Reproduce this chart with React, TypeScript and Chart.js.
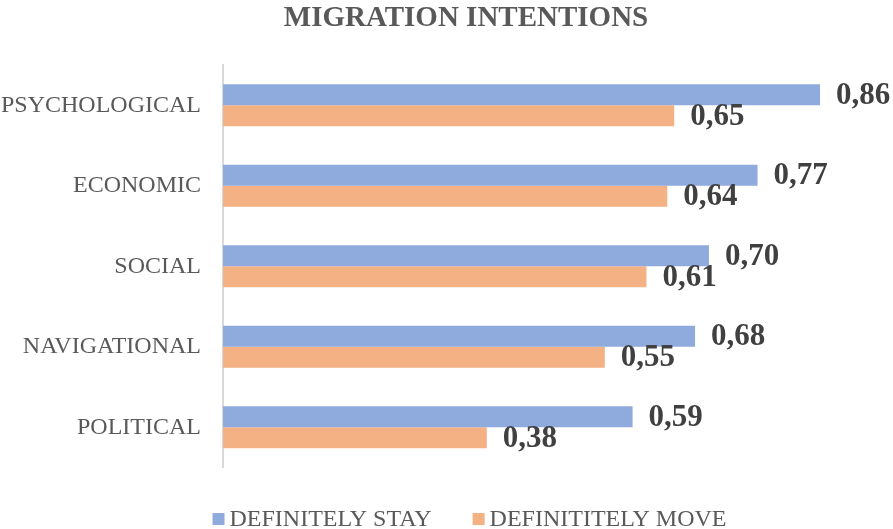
import React, { useEffect, useRef } from "react";
import { Chart, registerables } from "chart.js";

Chart.register(...registerables);

const TITLE = "MIGRATION INTENTIONS";
const categories = ["PSYCHOLOGICAL", "ECONOMIC", "SOCIAL", "NAVIGATIONAL", "POLITICAL"];
const stayLabel = "DEFINITELY STAY";
const moveLabel = "DEFINITITELY MOVE";
const stayValues = [0.86, 0.77, 0.7, 0.68, 0.59];
const moveValues = [0.65, 0.64, 0.61, 0.55, 0.38];

const SERIF = "'Liberation Serif', 'Times New Roman', serif";
const GRAY = "#595959";

const labelsPlugin = {
  id: "valueLabels",
  afterDatasetsDraw(chart: any) {
    const ctx = chart.ctx;
    ctx.save();
    ctx.font = `bold 31px ${SERIF}`;
    ctx.fillStyle = "#404040";
    ctx.textAlign = "left";
    ctx.textBaseline = "middle";
    chart.data.datasets.forEach((ds: any, di: number) => {
      const meta = chart.getDatasetMeta(di);
      meta.data.forEach((el: any, i: number) => {
        const v = ds.data[i] as number;
        ctx.fillText(v.toFixed(2).replace(".", ","), el.x + 16, el.y + 1);
      });
    });
    ctx.restore();
  },
};

const decorPlugin = {
  id: "decor",
  afterDraw(chart: any) {
    const ctx = chart.ctx;
    ctx.save();
    // title
    ctx.font = `bold 29px ${SERIF}`;
    ctx.fillStyle = GRAY;
    ctx.textAlign = "center";
    ctx.textBaseline = "alphabetic";
    ctx.fillText(TITLE, 466, 26);
    // legend
    ctx.font = `24px ${SERIF}`;
    const items = chart.data.datasets.map((ds: any) => ({
      text: ds.label as string,
      color: ds.backgroundColor as string,
    }));
    const box = 12;
    const gap = 5;
    const between = 41;
    const widths = items.map((it: any) => ctx.measureText(it.text).width);
    const total =
      widths.reduce((a: number, w: number) => a + w + box + gap, 0) + between * (items.length - 1);
    let x = 469.5 - total / 2;
    ctx.textAlign = "left";
    items.forEach((it: any, i: number) => {
      ctx.fillStyle = it.color;
      ctx.fillRect(x, 513, box, box);
      ctx.fillStyle = GRAY;
      ctx.fillText(it.text, x + box + gap, 526);
      x += box + gap + widths[i] + between;
    });
    ctx.restore();
  },
};

export default function App() {
  const ref = useRef<HTMLCanvasElement | null>(null);

  useEffect(() => {
    document.body.style.margin = "0";
    if (!ref.current) return;
    const chart = new Chart(ref.current, {
      type: "bar",
      data: {
        labels: categories,
        datasets: [
          {
            label: stayLabel,
            data: stayValues,
            backgroundColor: "#8FAADC",
            categoryPercentage: 0.522,
            barPercentage: 1,
          },
          {
            label: moveLabel,
            data: moveValues,
            backgroundColor: "#F4B183",
            categoryPercentage: 0.522,
            barPercentage: 1,
          },
        ],
      },
      options: {
        indexAxis: "y",
        responsive: false,
        maintainAspectRatio: false,
        animation: false,
        layout: { padding: { top: 65, bottom: 61.5, left: 0, right: 10.5 } },
        plugins: {
          legend: { display: false },
          title: { display: false },
          tooltip: { enabled: false },
        },
        scales: {
          x: {
            display: false,
            min: 0,
            max: 0.95,
          },
          y: {
            grid: { display: false, drawTicks: false },
            border: { display: true, color: "#D9D9D9", width: 2 },
            ticks: {
              color: GRAY,
              font: { family: SERIF, size: 24 },
              padding: 22,
            },
            afterFit(scale: any) {
              scale.width = 223;
            },
          },
        },
      },
      plugins: [labelsPlugin, decorPlugin],
    });
    return () => chart.destroy();
  }, []);

  return (
    <div style={{ width: 893, height: 529 }}>
      <canvas ref={ref} width={893} height={529} />
    </div>
  );
}
